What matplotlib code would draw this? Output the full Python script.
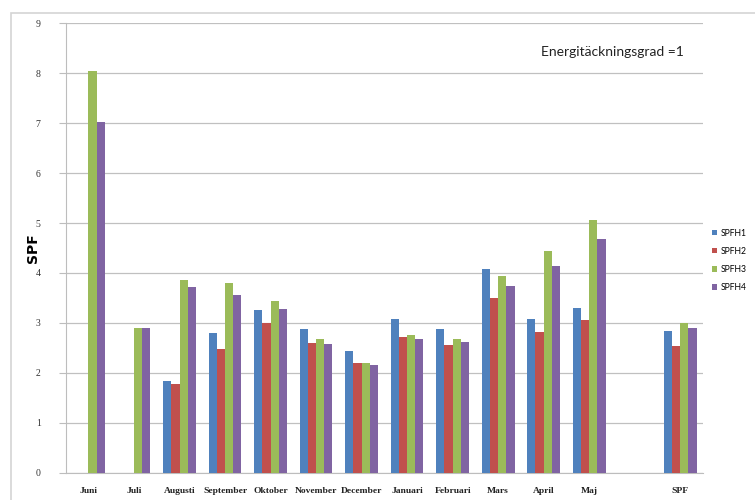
import matplotlib
matplotlib.use("Agg")
import matplotlib.pyplot as plt
import numpy as np
from matplotlib.patches import Rectangle

categories = ["Juni", "Juli", "Augusti", "September", "Oktober", "November",
              "December", "Januari", "Februari", "Mars", "April", "Maj", "", "SPF"]
series_names = ["SPFH1", "SPFH2", "SPFH3", "SPFH4"]
spfh1 = [0, 0, 1.84, 2.80, 3.25, 2.88, 2.44, 3.08, 2.88, 4.07, 3.07, 3.30, 0, 2.84]
spfh2 = [0, 0, 1.77, 2.47, 3.00, 2.59, 2.20, 2.72, 2.56, 3.49, 2.82, 3.06, 0, 2.54]
spfh3 = [8.05, 2.90, 3.85, 3.79, 3.44, 2.67, 2.20, 2.76, 2.68, 3.93, 4.43, 5.06, 0, 3.00]
spfh4 = [7.03, 2.89, 3.71, 3.56, 3.27, 2.58, 2.16, 2.68, 2.62, 3.74, 4.14, 4.69, 0, 2.89]
y_ticks = list(range(0, 10))
colors = ["#4F81BD", "#C0504D", "#9BBB59", "#8064A2"]

W, H = 755, 500
fig = plt.figure(figsize=(W / 100, H / 100), dpi=100)
fig.patch.set_facecolor("white")

# outer chart frame
fig.patches.append(Rectangle((11 / W, -0.1), 1.2, 1 - 13 / H + 0.1,
                             transform=fig.transFigure, fill=False,
                             edgecolor="#d4d4d4", linewidth=1.2))

left, right, top, bottom = 65.7, 703, 23.3, 472.7
ax = fig.add_axes([left / W, 1 - bottom / H, (right - left) / W, (bottom - top) / H])

x = np.arange(len(categories))
bw = 0.18
data = [spfh1, spfh2, spfh3, spfh4]
for i, (vals, c, name) in enumerate(zip(data, colors, series_names)):
    ax.bar(x + (i - 1.5) * bw, vals, width=bw, color=c, label=name,
           align="center", linewidth=0, zorder=3)

ax.set_xlim(-0.5, len(categories) - 0.5)
ax.set_ylim(0, 9)
ax.set_yticks(y_ticks)
ax.set_yticklabels([str(t) for t in y_ticks], family="Liberation Serif",
                   fontsize=7, color="#333333")
ax.set_xticks(x)
ax.set_xticklabels(categories, family="Liberation Serif", fontsize=6.8,
                   fontweight="bold", color="#222222")
ax.tick_params(axis="y", length=5, color="#bdbdbd", pad=13, direction="out")
ax.tick_params(axis="x", length=0, pad=10)
ax.yaxis.grid(True, color="#c0c0c0", linewidth=0.9, zorder=0)
ax.set_axisbelow(True)
for s in ["top", "right"]:
    ax.spines[s].set_visible(False)
ax.spines["left"].set_color("#bdbdbd")
ax.spines["bottom"].set_color("#bdbdbd")

fig.text(33 / W, 1 - 248 / H, "SPF", rotation=90, ha="center", va="center",
         fontsize=10, fontweight="bold", family="DejaVu Sans")
fig.text(612 / W, 1 - 52 / H, "Energitäckningsgrad =1", ha="center", va="center",
         fontsize=10, family="Lato", color="#222222")

leg = ax.legend(loc="upper left", bbox_to_anchor=(710 / W, 1 - 227 / H),
                bbox_transform=fig.transFigure, frameon=False,
                prop={"family": "Lato", "size": 6.2},
                handlelength=0.6, handleheight=0.6, handletextpad=0.4,
                labelspacing=1.05, borderpad=0.2, borderaxespad=0)

fig.savefig("out.png", dpi=100)
